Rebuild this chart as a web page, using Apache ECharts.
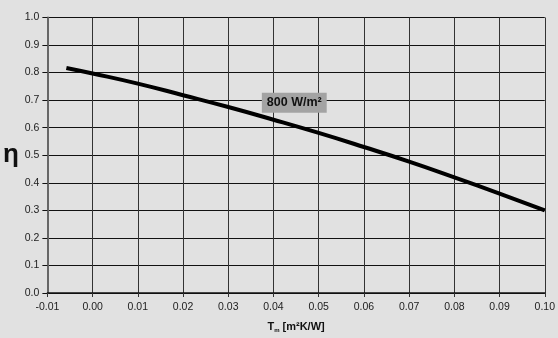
<!DOCTYPE html>
<html><head><meta charset="utf-8">
<script src="https://cdn.jsdelivr.net/npm/echarts@6/dist/echarts.min.js"></script>
<style>html,body{margin:0;padding:0;background:#e1e1e1}#c{width:558px;height:338px}</style>
</head><body><div id="c"></div>
<script>
const xValues = [-0.0058, 0.00, 0.01, 0.02, 0.03, 0.04, 0.05, 0.06, 0.07, 0.08, 0.09, 0.10];
const etaValues = [0.817, 0.797, 0.760, 0.718, 0.675, 0.629, 0.581, 0.530, 0.477, 0.420, 0.361, 0.300];
const curveLabel = '800 W/m²';
const labelPos = [0.0446, 0.691];

const chart = echarts.init(document.getElementById('c'));
chart.setOption({
  backgroundColor: '#e1e1e1',
  animation: false,
  grid: {left: 46, right: 13, top: 17.5, bottom: 40.5},
  xAxis: {
    type: 'value', min: -0.01, max: 0.10, interval: 0.01,
    name: 'T{sub|m} [m²K/W]', nameLocation: 'middle', nameGap: 28,
    nameTextStyle: {fontFamily: 'Liberation Sans', fontWeight: 'bold', fontSize: 11, color: '#111',
      rich: {sub: {fontSize: 6, fontWeight: 'bold', verticalAlign: 'bottom', padding: [6,0,0,0]}}},
    axisLine: {lineStyle: {color: '#111', width: 1.5}},
    axisTick: {length: 4, lineStyle: {color: '#333'}},
    axisLabel: {fontFamily: 'Liberation Sans', fontSize: 10.5, color: '#222', margin: 9,
      formatter: v => v.toFixed(2)},
    splitLine: {lineStyle: {color: '#333', width: 1}}
  },
  yAxis: {
    type: 'value', min: 0, max: 1.0, interval: 0.1,
    name: 'η', nameLocation: 'middle', nameGap: 25, nameRotate: 0,
    nameTextStyle: {fontFamily: 'Liberation Sans', fontWeight: 'bold', fontSize: 26, color: '#111', align: 'right', padding: [8, 0, 0, 0]},
    axisLine: {onZero: false, lineStyle: {color: '#666', width: 2}},
    axisTick: {length: 5, lineStyle: {color: '#111'}},
    axisLabel: {fontFamily: 'Liberation Sans', fontSize: 10.5, color: '#222', margin: 8,
      formatter: v => v.toFixed(1)},
    splitLine: {lineStyle: {color: '#111', width: 1}}
  },
  series: [{
    type: 'line', smooth: true, symbol: 'none',
    data: xValues.map((x, i) => [x, etaValues[i]]),
    lineStyle: {color: '#000', width: 4},
    markPoint: {
      symbol: 'rect', symbolSize: 0,
      data: [{coord: labelPos}],
      label: {show: true, position: 'inside', formatter: curveLabel,
        fontFamily: 'Liberation Sans', fontWeight: 'bold', fontSize: 12.5, color: '#111',
        backgroundColor: '#a3a3a3', padding: [4, 5, 3, 5]}
    }
  }]
});
</script></body></html>
